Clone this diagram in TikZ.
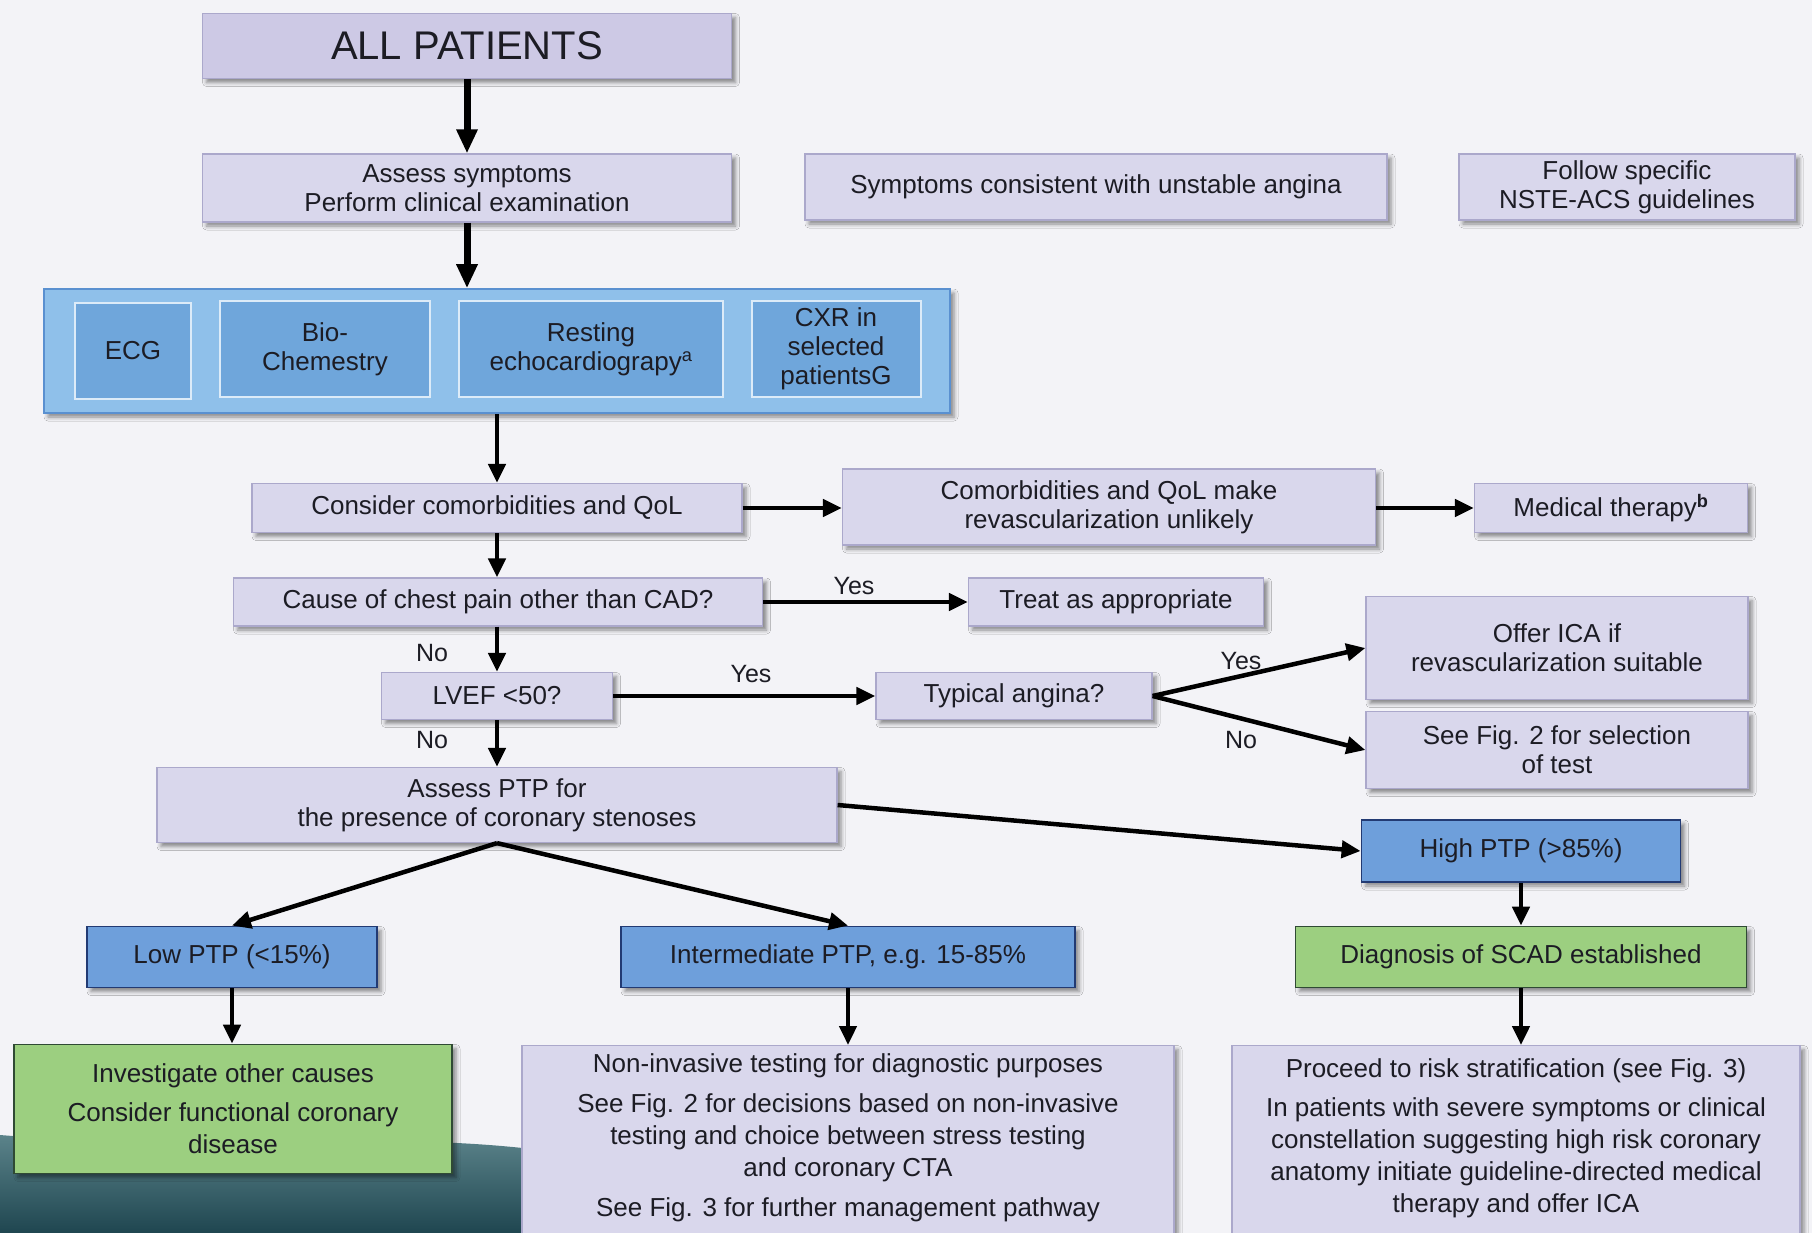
\documentclass[tikz,border=0pt]{standalone}
\usepackage{fontspec}
\setmainfont{Liberation Sans}
\usetikzlibrary{arrows.meta,shadows.blur,calc}

\definecolor{bgc}{HTML}{F3F3F7}
\definecolor{lav}{HTML}{D9D7EC}
\definecolor{lavtop}{HTML}{CDC9E5}
\definecolor{lavline}{HTML}{ABA8CB}
\definecolor{bluefill}{HTML}{6E9FDB}
\definecolor{blueline}{HTML}{223A73}
\definecolor{panelfill}{HTML}{8FC0EA}
\definecolor{panelline}{HTML}{5A90D0}
\definecolor{cellfill}{HTML}{6FA6DB}
\definecolor{cellline}{HTML}{DCEBF8}
\definecolor{greenfill}{HTML}{9CCF80}
\definecolor{greenline}{HTML}{2F4A34}
\definecolor{ink}{HTML}{1C1C24}
\definecolor{tealdark}{HTML}{1F4650}
\definecolor{teallight}{HTML}{5E868D}

\begin{document}
\begin{tikzpicture}[x=1pt,y=-1pt,
  every node/.style={font=\fontsize{26}{29}\selectfont, text=ink, align=center, inner sep=0pt},
  boxshadow/.style={blur shadow={shadow xshift=4pt,shadow yshift=-4pt,shadow blur radius=4pt,shadow opacity=45}},
  lavbox/.style={draw=lavline, line width=1.2pt, fill=lav, boxshadow},
  bluebox/.style={draw=blueline, line width=1.8pt, fill=bluefill, boxshadow},
  greenbox/.style={draw=greenline, line width=1.8pt, fill=greenfill, boxshadow},
  panel/.style={draw=panelline, line width=1.5pt, fill=panelfill, boxshadow},
  cell/.style={draw=cellline, line width=2pt, fill=cellfill},
  lbl/.style={font=\fontsize{25}{28}\selectfont},
  arr/.style={line width=4.5pt, -{Triangle[length=19pt,width=17pt]}},
  bigarr/.style={line width=7pt, -{Triangle[length=24pt,width=20pt]}},
]
% page and the dark swoosh in the lower left corner
\fill[bgc] (0,0) rectangle (1812,1233);
\shade[top color=teallight, bottom color=tealdark]
  (0,1135) .. controls (180,1150) and (380,1130) .. (540,1150) -- (540,1233) -- (0,1233) -- cycle;
\useasboundingbox (0,0) rectangle (1812,1233);

% top row
\node[lavbox, fill=lavtop, minimum width=529pt, minimum height=65pt,
      font=\fontsize{40}{44}\selectfont] (all) at (467,46) {ALL PATIENTS};
\node[lavbox, minimum width=529pt, minimum height=68pt] (assess) at (467,188)
  {Assess symptoms\\Perform clinical examination};
\node[lavbox, minimum width=582pt, minimum height=66pt] (unstable) at (1096,187)
  {Symptoms consistent with unstable angina};
\node[lavbox, minimum width=336pt, minimum height=66pt] (nste) at (1627,187)
  {Follow specific\\NSTE-ACS guidelines};

% baseline investigations
\node[panel, minimum width=906pt, minimum height=124pt] (panel) at (497,351) {};
\node[cell, minimum width=116pt, minimum height=96pt] (ecg) at (133,351) {ECG};
\node[cell, minimum width=210pt, minimum height=96pt] (bio) at (325,349) {Bio-\\Chemestry};
\node[cell, minimum width=264pt, minimum height=96pt] (echo) at (591,349)
  {Resting\\echocardiograpy\textsuperscript{a}};
\node[cell, minimum width=169pt, minimum height=96pt] (cxr) at (836,349)
  {CXR in\\selected\\patientsG};

% decision chain
\node[lavbox, minimum width=490pt, minimum height=49pt] (consider) at (497,508)
  {Consider comorbidities and QoL};
\node[lavbox, minimum width=533pt, minimum height=76pt] (comorb) at (1109,507)
  {Comorbidities and QoL make\\revascularization unlikely};
\node[lavbox, minimum width=273pt, minimum height=49pt] (medical) at (1611,508)
  {Medical therapy\textsuperscript{\textbf{b}}};
\node[lavbox, minimum width=529pt, minimum height=48pt] (cause) at (498,602)
  {Cause of chest pain other than CAD?};
\node[lavbox, minimum width=295pt, minimum height=48pt] (treat) at (1116,602)
  {Treat as appropriate};
\node[lavbox, minimum width=231pt, minimum height=47pt] (lvef) at (497,696)
  {LVEF <50?};
\node[lavbox, minimum width=276pt, minimum height=47pt] (typical) at (1014,696)
  {Typical angina?};
\node[lavbox, minimum width=382pt, minimum height=103pt] (offer) at (1557,648)
  {Offer ICA if\\revascularization suitable};
\node[lavbox, minimum width=382pt, minimum height=77pt] (fig2) at (1557,750)
  {See Fig. 2 for selection\\of test};
\node[lavbox, minimum width=680pt, minimum height=75pt] (ptp) at (497,805)
  {Assess PTP for\\the presence of coronary stenoses};

% pre-test probability classes
\node[bluebox, minimum width=319pt, minimum height=62pt] (high) at (1521,851)
  {High PTP (>85\%)};
\node[bluebox, minimum width=290pt, minimum height=61pt] (low) at (232,957)
  {Low PTP (<15\%)};
\node[bluebox, minimum width=454pt, minimum height=61pt] (inter) at (848,957)
  {Intermediate PTP, e.g. 15-85\%};
\node[greenbox, minimum width=451pt, minimum height=61pt] (diag) at (1521,957)
  {Diagnosis of SCAD established};

% management boxes
\node[greenbox, minimum width=438pt, minimum height=129pt,
      font=\fontsize{26}{32}\selectfont] (invest) at (233,1109)
  {Investigate other causes\\[7pt]Consider functional coronary\\disease};
\node[lavbox, anchor=north, minimum width=652pt, minimum height=205pt] (noninv) at (848,1045) {};
\node[font=\fontsize{26}{32}\selectfont] (noninvtxt) at (848,1138)
  {Non-invasive testing for diagnostic purposes\\[8pt]
   See Fig. 2 for decisions based on non-invasive\\
   testing and choice between stress testing\\
   and coronary CTA\\[8pt]
   See Fig. 3 for further management pathway};
\node[lavbox, anchor=north, minimum width=568pt, minimum height=205pt] (proceed) at (1516,1045) {};
\node[font=\fontsize{26}{32}\selectfont] (proceedtxt) at (1516,1138)
  {Proceed to risk stratification (see Fig. 3)\\[7pt]
   In patients with severe symptoms or clinical\\
   constellation suggesting high risk coronary\\
   anatomy initiate guideline-directed medical\\
   therapy and offer ICA};

% connectors
\draw[bigarr] (all.south) -- (assess.north);
\draw[bigarr] (assess.south) -- (assess.south |- panel.north);
\draw[arr] (panel.south) -- (consider.north);
\draw[arr] (consider.south) -- (consider.south |- cause.north);
\draw[arr] (lvef.north |- cause.south) -- (lvef.north);
\draw[arr] (lvef.south) -- (ptp.north);
\draw[arr] (consider.east) -- (consider.east -| comorb.west);
\draw[arr] (comorb.east |- medical.west) -- (medical.west);
\draw[arr] (cause.east) -- (treat.west);
\draw[arr] (lvef.east) -- (typical.west);
\draw[arr] (typical.east) -- (offer.west);
\draw[arr] (typical.east) -- (fig2.west);
\draw[arr] (ptp.east) -- (high.west);
\draw[arr] (ptp.south) -- (low.north);
\draw[arr] (ptp.south) -- (inter.north);
\draw[arr] (low.south) -- (low.south |- invest.north);
\draw[arr] (inter.south) -- (noninv.north);
\draw[arr] (high.south) -- (diag.north);
\draw[arr] (diag.south) -- (diag.south |- proceed.north);

% branch labels
\node[lbl] (no1) at (432,653) {No};
\node[lbl] (no2) at (432,740) {No};
\node[lbl] (yes1) at (854,586) {Yes};
\node[lbl] (yes2) at (751,674) {Yes};
\node[lbl] (yes3) at (1241,661) {Yes};
\node[lbl] (no3) at (1241,740) {No};
\end{tikzpicture}
\end{document}
